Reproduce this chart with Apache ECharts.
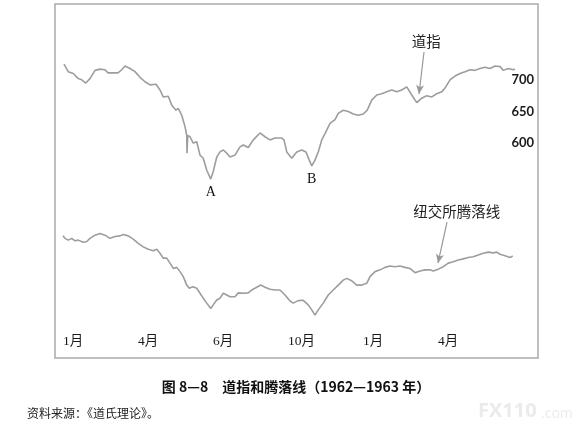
<!DOCTYPE html>
<html><head><meta charset="utf-8">
<script src="https://cdn.jsdelivr.net/npm/echarts@6/dist/echarts.min.js"></script>
<style>html,body{margin:0;padding:0;background:#fff}#c{width:578px;height:432px}</style>
</head><body><div id="c"></div><script>
// x values are months since Jan 1962
const dowMonth = [0.04,0.21,0.41,0.61,0.75,0.91,1.08,1.28,1.48,1.68,1.8,2.0,2.2,2.35,2.48,2.68,2.88,3.08,3.28,3.48,3.72,3.88,4.01,4.21,4.35,4.52,4.61,4.75,4.88,4.95,4.96,4.99,5.08,5.21,5.35,5.48,5.61,5.75,5.91,6.01,6.15,6.28,6.41,6.55,6.68,6.88,7.08,7.21,7.41,7.61,7.88,8.08,8.28,8.48,8.75,8.84,8.95,9.15,9.35,9.55,9.72,9.85,9.95,10.08,10.21,10.35,10.48,10.68,10.88,11.01,11.21,11.41,11.61,11.81,12.01,12.17,12.35,12.55,12.75,12.95,13.15,13.35,13.55,13.75,13.95,14.15,14.35,14.55,14.75,14.95,15.15,15.28,15.48,15.68,15.88,16.08,16.28,16.48,16.68,16.88,17.08,17.28,17.48,17.61,17.81,18.01,18.08];
const dowValue = [725,713,710,702,700,695,702,715,717,716,711,711,711,716,722,718,713,704,697,692,693,684,673,674,660,652,655,644,626,612,584,612,610,600,602,581,576,557,543,555,578,586,589,584,578,581,594,597,593,605,616,610,605,608,608,605,586,576,586,589,586,573,564,573,586,605,615,631,637,647,652,650,646,644,646,652,668,676,678,681,684,681,684,689,676,664,671,675,673,678,681,687,700,706,710,713,716,715,718,720,718,722,721,715,718,716,717];
const adMonth = [0,0.08,0.21,0.35,0.48,0.61,0.81,0.95,1.08,1.28,1.48,1.68,1.88,2.08,2.28,2.41,2.61,2.81,3.01,3.21,3.41,3.61,3.75,3.88,4.01,4.15,4.28,4.41,4.55,4.68,4.81,4.95,5.05,5.19,5.35,5.48,5.61,5.75,5.91,6.01,6.15,6.28,6.41,6.55,6.68,6.88,7.01,7.21,7.41,7.55,7.75,7.91,8.08,8.28,8.48,8.68,8.88,9.08,9.21,9.41,9.61,9.81,9.95,10.08,10.21,10.41,10.61,10.81,11.01,11.21,11.35,11.55,11.75,11.95,12.15,12.28,12.48,12.68,12.88,13.08,13.28,13.48,13.68,13.88,14.08,14.28,14.48,14.68,14.81,15.01,15.21,15.41,15.61,15.81,16.01,16.21,16.41,16.61,16.81,17.01,17.21,17.35,17.48,17.68,17.88,17.99];
const adValue = [34.5,33.8,33.3,33.8,33.1,33.3,32.7,32.9,33.8,34.7,35.2,34.7,33.8,34.3,34.5,34.9,34.5,33.6,32.4,31.4,30.7,30.3,30.7,29.6,28.2,28.2,26.8,25.3,25.6,24.4,23.0,20.6,19.7,20.1,19.7,18.3,16.9,15.5,14.0,15.0,16.4,16.9,18.3,17.8,17.3,17.3,18.4,18.3,18.4,19.2,20.0,20.6,20.0,19.4,19.2,19.2,17.8,16.1,15.5,16.2,16.3,15.0,13.6,12.1,13.6,15.5,17.8,19.2,20.6,22.0,22.5,21.8,20.6,20.6,21.1,23.0,24.4,24.9,25.6,26.0,25.8,26.0,25.6,25.3,24.1,24.6,24.9,24.9,24.6,25.1,25.8,26.8,27.2,27.7,28.0,28.4,28.6,29.1,29.6,29.9,29.7,29.9,29.3,28.9,28.4,28.8];
const monthTicks = [0,3,6,9,12,15];
const monthLabels = ['1月','4月','6月','10月','1月','4月'];
const dowTicks = [600,650,700];
const dowArrow = [[14.44,744],[14.24,677.6]];
const adArrow = [[15.36,38.4],[15.0,26.8]];
const captionText = '图 8—8　道指和腾落线（1962—1963 年）';
const sourceText = '资料来源：《道氏理论》。';

const dowData = dowMonth.map((m,i)=>[m,dowValue[i]]);
const adData = adMonth.map((m,i)=>[m,adValue[i]]);
let iA = 0; dowValue.forEach((v,i)=>{ if (v < dowValue[iA]) iA = i; });
let iB = -1; dowValue.forEach((v,i)=>{ if (dowMonth[i]>9 && dowMonth[i]<11 && (iB<0 || v < dowValue[iB])) iB = i; });

const lineColor = '#9d9d9d';
const serif = '"Liberation Serif","Noto Sans CJK SC",serif';
const cjk = '"Noto Sans CJK SC",sans-serif';

const chart = echarts.init(document.getElementById('c'), null, {renderer:'canvas'});
chart.setOption({
  animation:false,
  backgroundColor:'#fff',
  grid:{left:55,right:40,top:4,bottom:74,show:true,borderColor:'#aaaaaa',borderWidth:1.5,backgroundColor:'transparent'},
  xAxis:{type:'value',min:-0.32,max:19,
    axisLine:{show:false},axisTick:{show:false},splitLine:{show:false},
    axisLabel:{inside:true,margin:10,customValues:monthTicks,align:'left',
      formatter:v=>{const k=monthTicks.indexOf(Math.round(v));return k>=0?monthLabels[k]:'';},
      color:'#1a1a1a',fontFamily:serif,fontSize:13.5}},
  yAxis:[
    {type:'value',position:'right',min:260,max:820,
      axisLine:{show:false},axisTick:{show:false},splitLine:{show:false},
      axisLabel:{inside:true,margin:4,customValues:dowTicks,color:'#1a1a1a',
        fontFamily:'Lato, "DejaVu Sans", sans-serif',fontWeight:'bold',fontSize:13}},
    {type:'value',show:false,min:0,max:100}
  ],
  series:[
    {name:'道指',type:'line',data:dowData,xAxisIndex:0,yAxisIndex:0,symbol:'none',
      lineStyle:{color:lineColor,width:1.6},silent:true,
      markPoint:{symbol:'circle',symbolSize:1,itemStyle:{color:'rgba(0,0,0,0)'},silent:true,
        label:{show:true,position:'bottom',distance:6,color:'#111',fontFamily:serif,fontSize:14,formatter:p=>p.name},
        data:[{name:'A',coord:dowData[iA]},{name:'B',coord:dowData[iB]}]},
      markLine:{silent:true,symbol:['none','arrow'],symbolSize:[6,9],
        lineStyle:{color:'#999',width:1.2,type:'solid'},
        label:{show:true,position:'start',distance:3,offset:[2,0],formatter:'道指',color:'#222',fontFamily:cjk,fontSize:14.5},
        data:[[{coord:dowArrow[0]},{coord:dowArrow[1]}]]}
    },
    {name:'纽交所腾落线',type:'line',data:adData,xAxisIndex:0,yAxisIndex:1,symbol:'none',
      lineStyle:{color:lineColor,width:1.6},silent:true,
      markLine:{silent:true,symbol:['none','arrow'],symbolSize:[6,9],
        lineStyle:{color:'#999',width:1.2,type:'solid'},
        label:{show:true,position:'start',distance:3,offset:[9,0],formatter:'纽交所腾落线',color:'#222',fontFamily:cjk,fontSize:14.5},
        data:[[{coord:adArrow[0]},{coord:adArrow[1]}]]}
    }
  ],
  graphic:[
    {type:'text',x:296,y:387,style:{text:captionText,font:'bold 14px "Noto Sans CJK SC", sans-serif',fill:'#111',textAlign:'center',textVerticalAlign:'middle'}},
    {type:'text',x:27,y:413,style:{text:sourceText,font:'12px "Noto Sans CJK SC", sans-serif',fill:'#222',textAlign:'left',textVerticalAlign:'middle'}},
    {type:'text',x:478,y:411,style:{text:'FX110',font:'bold 20px "Open Sans", sans-serif',fill:'#ebebeb',textAlign:'left',textVerticalAlign:'middle'}},
    {type:'text',x:541,y:414,style:{text:'.com',font:'14px "Open Sans", sans-serif',fill:'#ebebeb',textAlign:'left',textVerticalAlign:'middle'}}
  ]
});
</script></body></html>
